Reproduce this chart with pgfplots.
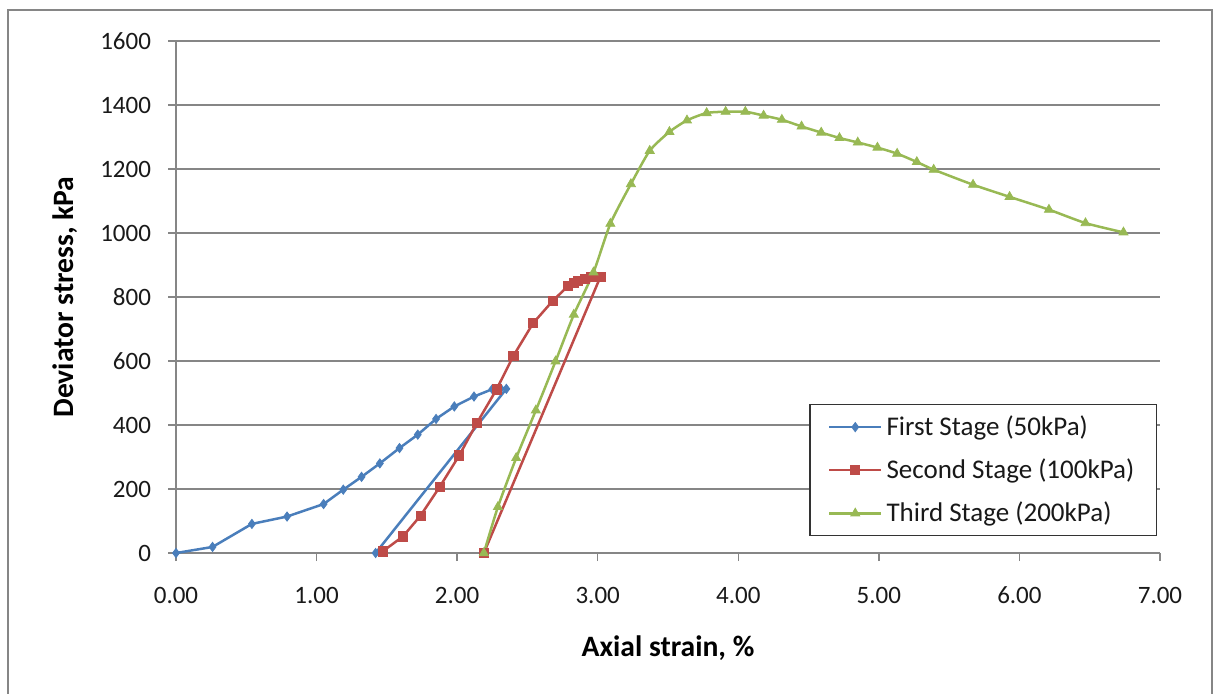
\documentclass[border=0pt]{standalone}
\usepackage{pgfplots}
\pgfplotsset{compat=1.18}
\usepackage{fontspec}
\setmainfont{Carlito}
\definecolor{sblue}{HTML}{4A7EBB}
\definecolor{sred}{HTML}{BE4B48}
\definecolor{sgreen}{HTML}{98B954}
\definecolor{axgray}{HTML}{868686}
\begin{document}
\begin{tikzpicture}
\path[use as bounding box] (0,0) rectangle (607.5pt,-346.5pt);
\draw[axgray, line width=1pt] (4pt,-350pt) -- (4pt,-5pt) -- (606pt,-5pt) -- (606pt,-350pt);
\begin{axis}[
  at={(88pt,-276.5pt)}, anchor=south west,
  scale only axis, width=492pt, height=256pt,
  xmin=0, xmax=7, ymin=0, ymax=1600,
  xtick={0,1,...,7}, ytick={0,200,...,1600},
  axis x line*=bottom, axis y line*=left,
  xtick pos=bottom, ytick pos=left,
  axis line style={draw=axgray, line width=0.7pt, -},
  xtick align=outside, ytick align=outside,
  major tick length=4pt,
  every tick/.style={draw=axgray, line width=0.7pt},
  ymajorgrids, grid style={draw=axgray, line width=0.7pt},
  /pgf/number format/assume math mode=true,
  ticklabel style={font=\fontsize{12.5}{15}\selectfont, text=black!90},
  xticklabel style={/pgf/number format/.cd, fixed, fixed zerofill, precision=2, /tikz/.cd, yshift=-9.5pt},
  yticklabel style={/pgf/number format/.cd, fixed, 1000 sep={}, /tikz/.cd, xshift=-5pt},
  xlabel={Axial strain, \%}, ylabel={Deviator stress, kPa},
  label style={font=\fontsize{14.8}{17}\bfseries\selectfont},
  xlabel style={at={(axis description cs:0.5,-0.1855)}, anchor=center},
  ylabel style={at={(axis description cs:-0.113,0.5)}, anchor=center, rotate=0},
  legend style={at={(0.997,0.291)}, anchor=north east, draw=black!80, line width=0.7pt,
    font=\fontsize{13.5}{16}\selectfont, inner xsep=9pt, inner ysep=3.5pt,
    row sep=6.2pt, text=black!90},
  legend cell align=left,
  legend image code/.code={\draw[mark repeat=2,mark phase=2] plot coordinates {(5pt,0pt)(18pt,0pt)(31pt,0pt)};},
  every axis plot/.append style={line width=1.25pt},
]
\addplot[sblue, mark=diamond*, mark size=2.3pt, mark options={solid, line width=0.4pt}] coordinates {
(0,0) (0.26,19) (0.54,91) (0.79,114) (1.05,153) (1.19,198) (1.32,238) (1.45,280)
(1.59,328) (1.72,370) (1.85,419) (1.98,458) (2.12,489) (2.25,512) (2.31,514) (2.35,513) (1.42,0)
};
\addlegendentry{First Stage (50kPa)}
\addplot[sred, mark=square*, mark size=2.3pt, mark options={solid, line width=0.4pt}] coordinates {
(1.47,5) (1.615,52) (1.74,117) (1.875,206) (2.015,305) (2.14,406) (2.28,511) (2.40,616)
(2.54,718) (2.68,788) (2.79,835) (2.83,844) (2.86,851) (2.91,856) (2.95,862) (3.02,864) (2.19,0)
};
\addlegendentry{Second Stage (100kPa)}
\addplot[sgreen, smooth, tension=0.4, mark=triangle*, mark size=2.6pt, mark options={solid, line width=0.4pt}] coordinates {
(2.19,0) (2.29,144) (2.42,297) (2.56,446) (2.70,599) (2.83,745) (2.97,877) (3.09,1029)
(3.236,1153) (3.37,1257) (3.51,1316) (3.635,1352) (3.775,1375) (3.91,1379) (4.05,1379)
(4.18,1367) (4.31,1354) (4.45,1333) (4.59,1314) (4.72,1297) (4.85,1283) (4.99,1267)
(5.13,1248) (5.27,1222) (5.39,1198) (5.67,1151) (5.93,1113) (6.21,1073) (6.47,1031) (6.74,1002)
};
\addlegendentry{Third Stage (200kPa)}
\end{axis}
\end{tikzpicture}
\end{document}
